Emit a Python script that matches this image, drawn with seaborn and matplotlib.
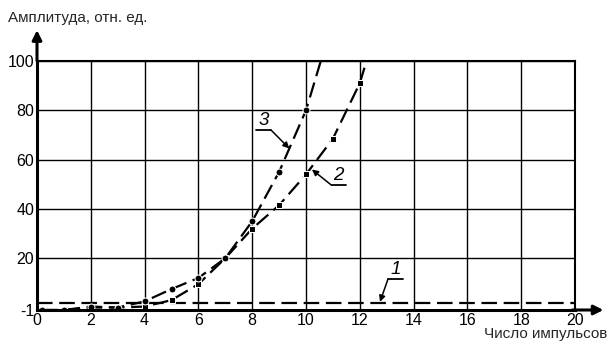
import matplotlib
matplotlib.use("Agg")
import matplotlib.pyplot as plt
import seaborn as sns
import numpy as np

sns.set_style("white")
plt.rcParams['font.family'] = ['Liberation Sans', 'DejaVu Sans']

# Data
curve1_x = [0, 20]
curve1_y = [2, 2]

curve2_x = [0.2, 1, 2, 3, 4, 5, 6, 7, 8, 9, 10, 11, 12, 12.25]
curve2_y = [-1, -1, 0, 0, 0.4, 3, 9.5, 20, 32, 41.5, 54, 68.5, 91, 100]

curve3_x = [0.2, 1, 2, 3, 4, 5, 6, 7, 8, 9, 10, 10.55]
curve3_y = [-1, -1, 0.4, 0, 2.5, 7.5, 12, 20, 35, 55, 80, 100]

x_ticks = list(range(0, 21, 2))
y_ticks = [-1, 20, 40, 60, 80, 100]
y_tick_labels = ["-1", "20", "40", "60", "80", "100"]

fig = plt.figure(figsize=(6.13, 3.46), dpi=100)
ax = fig.add_axes([37/613, 1-310/346, 538/613, 249/346])

dash = (0, (7, 3))
sns.lineplot(x=curve1_x, y=curve1_y, ax=ax, color='black', sort=False,
             linestyle=dash, linewidth=1.6)
sns.lineplot(x=curve2_x, y=curve2_y, ax=ax, color='black', sort=False,
             linestyle=dash, linewidth=1.6, marker='s', markersize=5,
             markevery=list(range(2, 13)))
sns.lineplot(x=curve3_x, y=curve3_y, ax=ax, color='black', sort=False,
             linestyle=dash, linewidth=1.6, marker='o', markersize=5,
             markevery=list(range(0, 11)))

ax.set_xlim(0, 20)
ax.set_ylim(-1, 100)
ax.set_xticks(x_ticks)
ax.set_yticks(y_ticks)
ax.set_yticklabels(y_tick_labels)
ax.grid(True, color='black', linewidth=1)
ax.tick_params(length=0, labelsize=11.5, pad=2, colors='black')

for s in ['top', 'right']:
    ax.spines[s].set_linewidth(1.5)
    ax.spines[s].set_color('black')
for s in ['left', 'bottom']:
    ax.spines[s].set_linewidth(2.2)
    ax.spines[s].set_color('black')

# axis arrows
ax.annotate('', xy=(0, 1.135), xytext=(0, 0.99), xycoords='axes fraction',
            arrowprops=dict(arrowstyle='-|>', color='black', lw=2.2,
                            mutation_scale=14), annotation_clip=False)
ax.annotate('', xy=(1.058, 0), xytext=(0.99, 0), xycoords='axes fraction',
            arrowprops=dict(arrowstyle='-|>', color='black', lw=2.2,
                            mutation_scale=14), annotation_clip=False)

fig.text(8/613, 1-18/346, "Амплитуда, отн. ед.", fontsize=11,
         ha='left', va='center')
fig.text(607/613, 1-334/346, "Число импульсов", fontsize=11,
         ha='right', va='center')

# curve labels with leaders
def label(txt, tx, ty, ux0, ux1, uy, px, py):
    ax.text(tx, ty, txt, fontsize=13.5, fontstyle='italic', ha='center',
            va='bottom', color='black')
    ax.plot([ux0, ux1], [uy, uy], color='black', lw=1.3)
    ax.annotate('', xy=(px, py), xytext=(ux1 if px > ux1 else ux0, uy),
                arrowprops=dict(arrowstyle='-|>', color='black', lw=1.1,
                                mutation_scale=9, shrinkA=0, shrinkB=0))

label("3", 8.42, 72.5, 8.15, 8.7, 72, 9.38, 64.5)
label("2", 11.2, 50, 10.95, 11.5, 49.6, 10.22, 56)
label("1", 13.35, 12, 13.05, 13.6, 11.6, 12.75, 2.3)

fig.savefig("out.png", dpi=100)
